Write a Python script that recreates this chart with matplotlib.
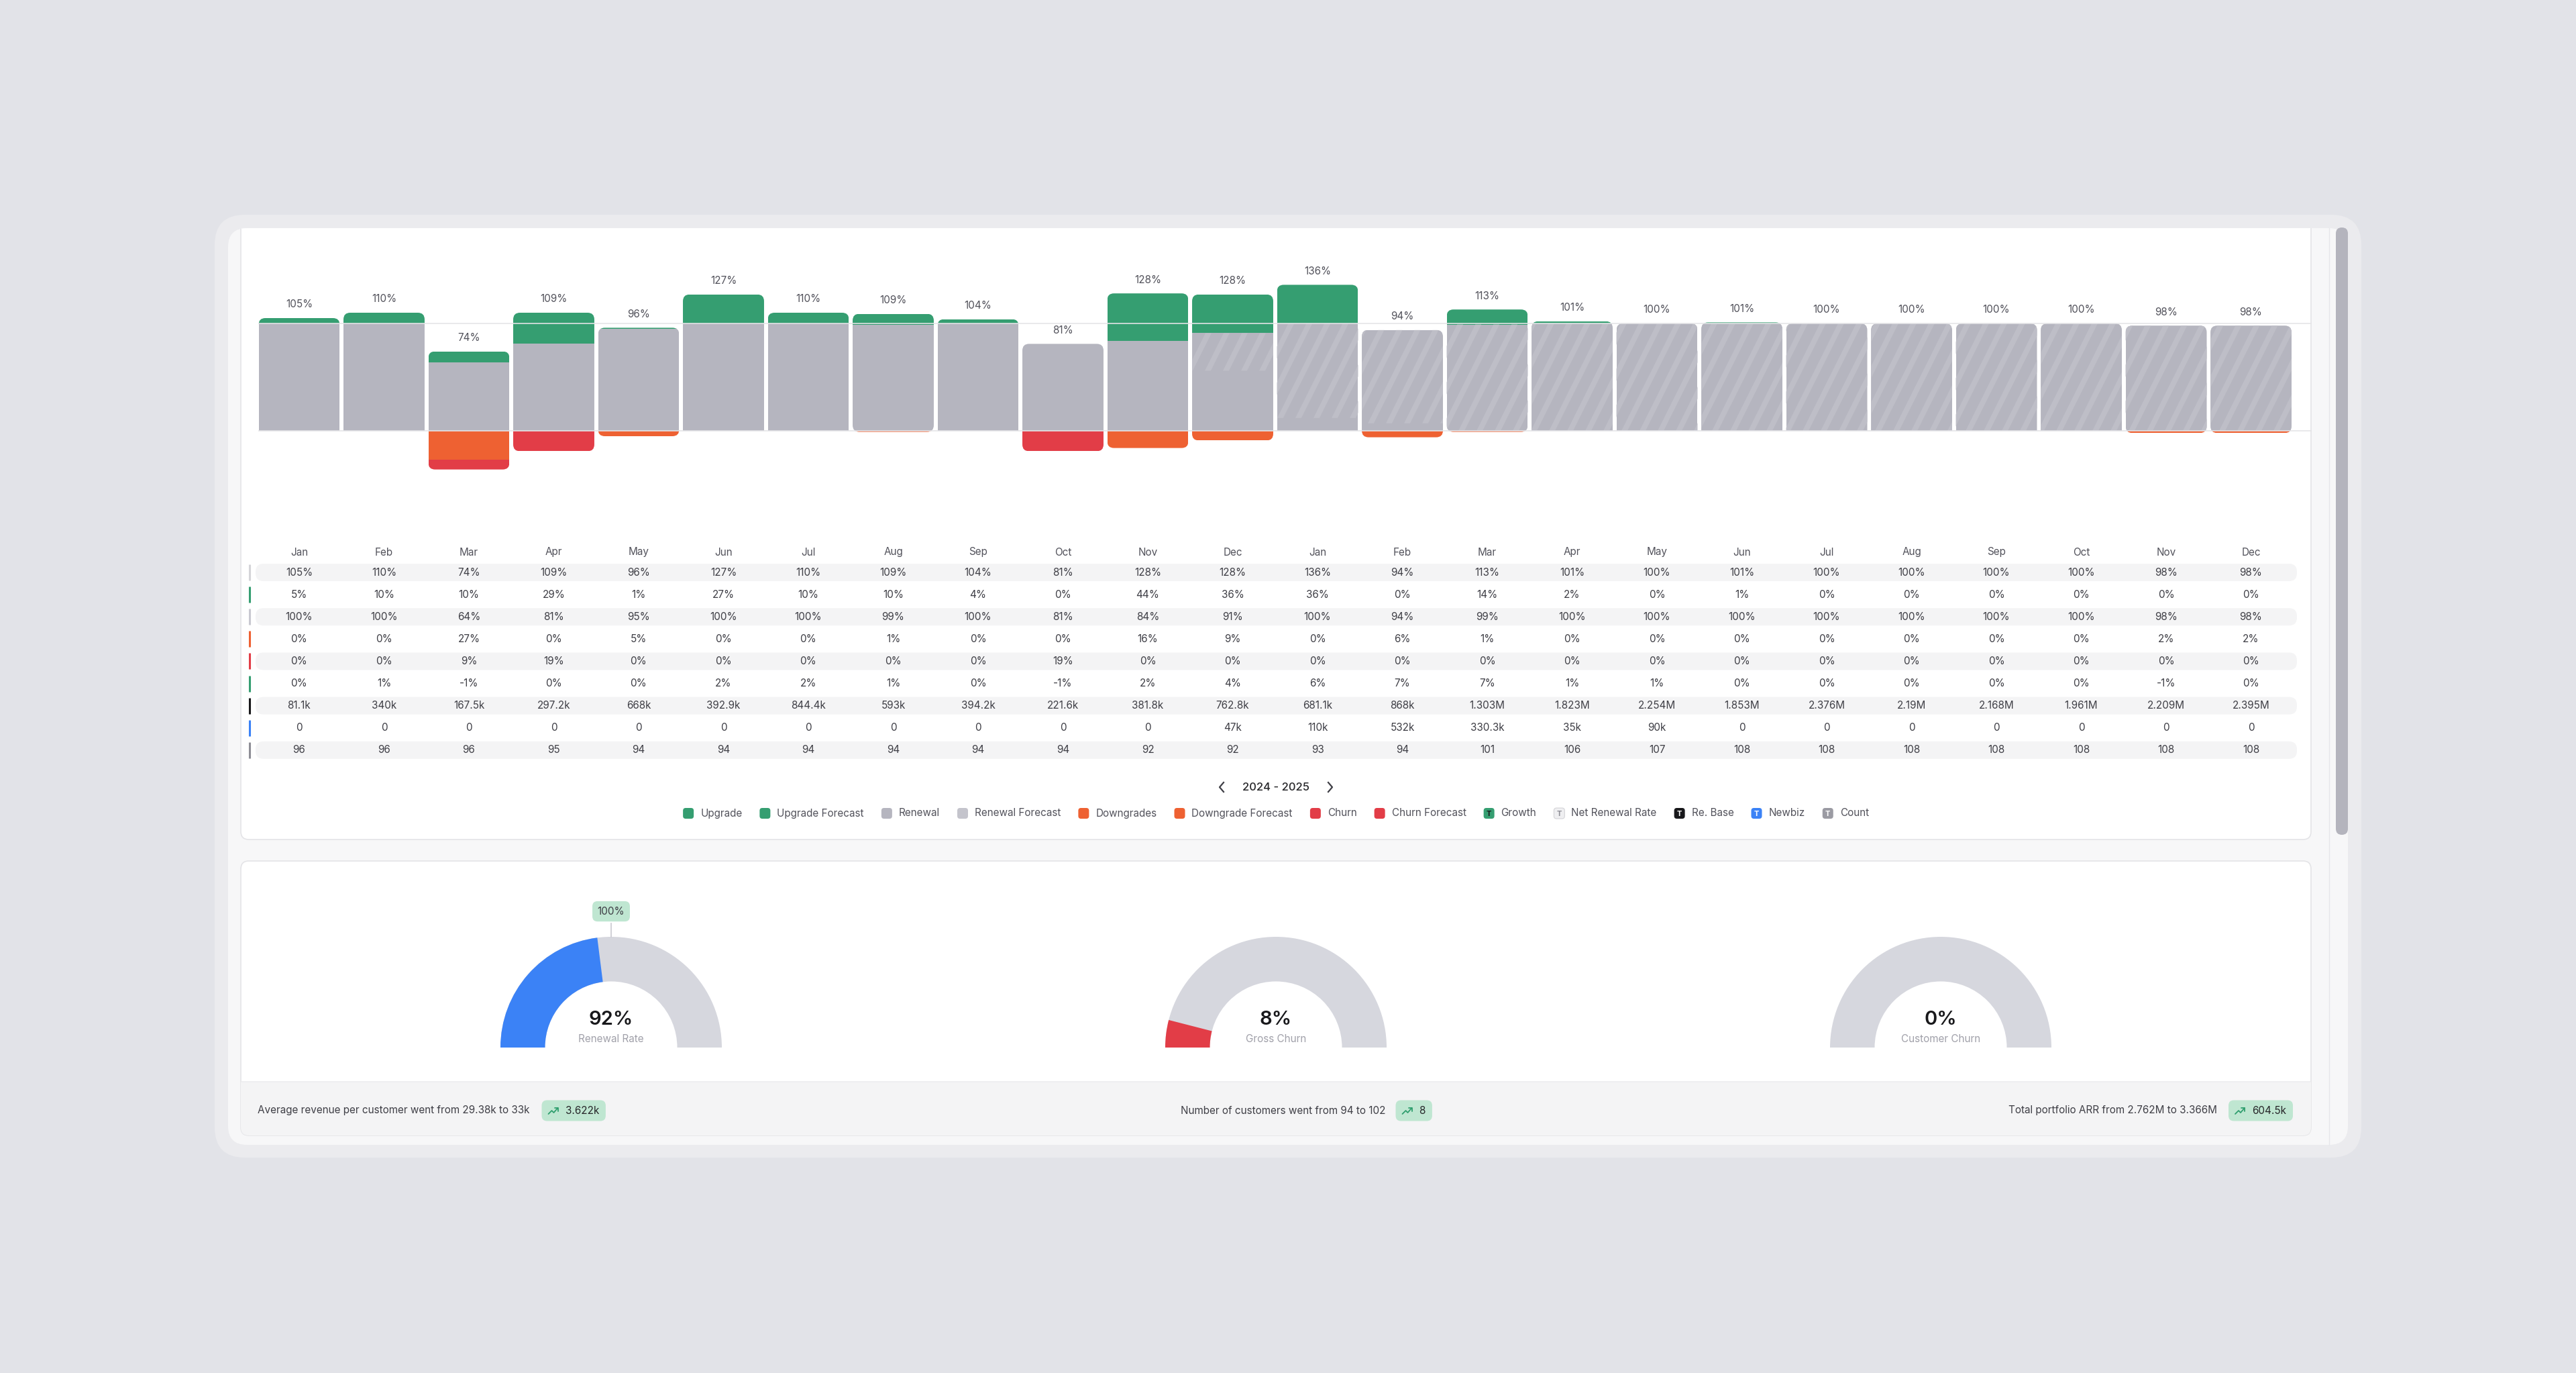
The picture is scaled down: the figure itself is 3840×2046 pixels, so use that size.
import numpy as np
import matplotlib
matplotlib.use('Agg')
import matplotlib.pyplot as plt
from matplotlib.patches import FancyBboxPatch, Rectangle, Wedge
from matplotlib.collections import PolyCollection
from matplotlib.transforms import blended_transform_factory

plt.rcParams['font.family'] = ['Inter', 'DejaVu Sans']

# ---- values ----
months = ['Jan', 'Feb', 'Mar', 'Apr', 'May', 'Jun', 'Jul', 'Aug', 'Sep', 'Oct', 'Nov', 'Dec'] * 2
net_renewal = [105, 110, 74, 109, 96, 127, 110, 109, 104, 81, 128, 128,
               136, 94, 113, 101, 100, 101, 100, 100, 100, 100, 98, 98]
upgrade = [5, 10, 10, 29, 1, 27, 10, 10, 4, 0, 44, 36,
           36, 0, 14, 2, 0, 1, 0, 0, 0, 0, 0, 0]
renewal = [100, 100, 64, 81, 95, 100, 100, 99, 100, 81, 84, 91,
           100, 94, 99, 100, 100, 100, 100, 100, 100, 100, 98, 98]
# part of the renewal bar that is still a forecast (hatched)
renewal_forecast = [0, 0, 0, 0, 0, 0, 0, 0, 0, 0, 0, 35,
                    88, 87, 99, 100, 100, 100, 100, 100, 100, 100, 98, 98]
downgrades = [0, 0, 27, 0, 5, 0, 0, 1, 0, 0, 16, 9,
              0, 6, 1, 0, 0, 0, 0, 0, 0, 0, 2, 2]
churn = [0, 0, 9, 19, 0, 0, 0, 0, 0, 19, 0, 0,
         0, 0, 0, 0, 0, 0, 0, 0, 0, 0, 0, 0]
growth = [0, 1, -1, 0, 0, 2, 2, 1, 0, -1, 2, 4,
          6, 7, 7, 1, 1, 0, 0, 0, 0, 0, -1, 0]
re_base = ['81.1k', '340k', '167.5k', '297.2k', '668k', '392.9k', '844.4k', '593k',
           '394.2k', '221.6k', '381.8k', '762.8k', '681.1k', '868k', '1.303M', '1.823M',
           '2.254M', '1.853M', '2.376M', '2.19M', '2.168M', '1.961M', '2.209M', '2.395M']
newbiz = ['0', '0', '0', '0', '0', '0', '0', '0', '0', '0', '0', '47k',
          '110k', '532k', '330.3k', '35k', '90k', '0', '0', '0', '0', '0', '0', '0']
count = [96, 96, 96, 95, 94, 94, 94, 94, 94, 94, 92, 92,
         93, 94, 101, 106, 107, 108, 108, 108, 108, 108, 108, 108]
period = '2024 - 2025'

legend_labels = ['Upgrade', 'Upgrade Forecast', 'Renewal', 'Renewal Forecast', 'Downgrades',
                 'Downgrade Forecast', 'Churn', 'Churn Forecast', 'Growth', 'Net Renewal Rate',
                 'Re. Base', 'Newbiz', 'Count']

gauge_labels = ['Renewal Rate', 'Gross Churn', 'Customer Churn']
gauge_values = [92, 8, 0]
gauge_max = [200, 100, 100]
renewal_target = 100

footer_texts = ['Average revenue per customer went from 29.38k to 33k',
                'Number of customers went from 94 to 102',
                'Total portfolio ARR from 2.762M to 3.366M']
footer_deltas = ['3.622k', '8', '604.5k']

# ---- colours ----
GREEN = '#359e71'
GRAY = '#b5b5bf'
STRIPE = '#bebec7'
ORANGE = '#ee6132'
RED = '#e23d47'
BLUE = '#3b82f6'
TXT = '#3f3f46'
TXT2 = '#52525b'

W, H = 3840, 2046
fig = plt.figure(figsize=(W / 100, H / 100), dpi=100, facecolor='#e2e3e8')

bg = fig.add_axes([0, 0, 1, 1])
bg.set_xlim(0, W)
bg.set_ylim(H, 0)
bg.axis('off')


def px_axes(x0, y0, x1, y1):
    return fig.add_axes([x0 / W, 1 - y1 / H, (x1 - x0) / W, (y1 - y0) / H])


def rbox(x0, y0, x1, y1, r, fc, ec='none', lw=0, z=1, ax=bg):
    p = FancyBboxPatch((x0, y0), x1 - x0, y1 - y0,
                       boxstyle=f'round,pad=0,rounding_size={r}',
                       fc=fc, ec=ec, lw=lw, zorder=z)
    ax.add_patch(p)
    return p


# ---- page frame, cards, scrollbar ----
rbox(320, 320, 3520, 1725, 45, '#ebebee')
panel = rbox(340, 340, 3500, 1706, 28, '#f7f7f8')
card1 = rbox(359, 300, 3445, 1251, 12, 'white', ec='#e4e4e7', lw=1.2)
card1.set_clip_path(panel)
bg.plot([3472, 3472], [340, 1706], color='#e6e6ea', lw=1, zorder=1)
rbox(3482, 339, 3500, 1244, 9, '#b4b4bd', z=2)
card2 = rbox(359, 1283, 3445, 1692, 12, 'white', ec='#e4e4e7', lw=1.2)
foot = Rectangle((359, 1612), 3086, 80, fc='#f4f4f5', ec='none', zorder=1.5)
bg.add_patch(foot)
foot.set_clip_path(card2)
bg.plot([360, 3444], [1612, 1612], color='#ececef', lw=1.2, zorder=1.6)

# ---- stacked bar chart ----
ax = px_axes(385, 380, 3446, 720)
ax.set_xlim(-0.482, 23.715)
ax.set_ylim(-48.75, 163.75)
ax.axis('off')

x = np.arange(len(months))
bw = 0.956
upg = np.array(upgrade)
ren = np.array(renewal)
ren_fc = np.array(renewal_forecast)
ren_act = ren - ren_fc
dwn = np.array(downgrades)
chu = np.array(churn)
pos_top = ren + upg
neg_bot = -(dwn + chu)

sx = ax.transData.transform((1, 0))[0] - ax.transData.transform((0, 0))[0]
sy = ax.transData.transform((0, 1))[1] - ax.transData.transform((0, 0))[1]
rx, ry = 10 / sx, 10 / sy

outlines = []
for i in x:
    lo = neg_bot[i] if neg_bot[i] < 0 else -3 * ry
    o = FancyBboxPatch((i - bw / 2, lo), bw, pos_top[i] - lo,
                       boxstyle=f'round,pad=0,rounding_size={rx}',
                       mutation_aspect=ry / rx)
    o.set_transform(ax.transData)
    outlines.append(o)

stacks = [
    ax.bar(x, ren_act, bw, bottom=0, color=GRAY, lw=0, zorder=2),
    ax.bar(x, ren_fc, bw, bottom=ren_act, color=GRAY, lw=0, zorder=2),
    ax.bar(x, upg, bw, bottom=ren, color=GREEN, lw=0, zorder=2),
    ax.bar(x, -dwn, bw, bottom=0, color=ORANGE, lw=0, zorder=2),
    ax.bar(x, -chu, bw, bottom=-dwn, color=RED, lw=0, zorder=2),
]
for cont in stacks:
    for i, rect in enumerate(cont):
        rect.set_clip_path(outlines[i])

# diagonal stripes on forecast renewal
period_u = 27 / sx
stripe_u = 9 / sx
for i in x:
    if ren_fc[i] <= 0:
        continue
    y0, y1 = ren_act[i], ren[i]
    shift = (y1 - y0) * sy / 2 / sx
    k = np.floor((i - bw / 2 - shift) / period_u) * period_u
    polys = []
    while k < i + bw / 2:
        polys.append([(k, y0), (k + stripe_u, y0), (k + stripe_u + shift, y1), (k + shift, y1)])
        k += period_u
    pc = PolyCollection(polys, facecolors=STRIPE, edgecolors='none', zorder=2.5)
    ax.add_collection(pc, autolim=False)
    pc.set_clip_path(outlines[i])

ax.axhline(100, color='#e4e4e7', lw=1.3, zorder=4, alpha=0.9)
ax.axhline(0, color='#e4e4e7', lw=1.3, zorder=4, alpha=0.9)

for i in x:
    ax.annotate(f'{net_renewal[i]}%', (i, pos_top[i]), xytext=(0, 14.5),
                textcoords='offset points', ha='center', va='center',
                fontsize=11, color=TXT2)

# ---- table under the bars ----
tr = blended_transform_factory(ax.transData, bg.transData)
for i, m in enumerate(months):
    bg.text(i, 823, m, transform=tr, ha='center', va='center', fontsize=11, color=TXT2)

rows = [
    [f'{v}%' for v in net_renewal],
    [f'{v}%' for v in upgrade],
    [f'{v}%' for v in renewal],
    [f'{v}%' for v in downgrades],
    [f'{v}%' for v in churn],
    [f'{v}%' for v in growth],
    re_base,
    newbiz,
    [str(v) for v in count],
]
row_colors = ['#d4d4d8', GREEN, '#c9c9d1', ORANGE, RED, GREEN, '#18181b', BLUE, '#8e8e96']
for k, vals in enumerate(rows):
    yc = 853 + 33.1 * k
    if k % 2 == 0:
        rbox(381, yc - 13, 3424, yc + 13, 12, '#f4f4f5', z=1.8)
    bg.plot([372, 372], [yc - 12, yc + 12], color=row_colors[k], lw=2.2,
            solid_capstyle='butt', zorder=2)
    for i, s in enumerate(vals):
        bg.text(i, yc, s, transform=tr, ha='center', va='center', fontsize=11, color=TXT, zorder=3)

# ---- period switcher ----
bg.text(1902, 1173, period, ha='center', va='center', fontsize=12, color='#27272a',
        fontweight='medium', zorder=3)
bg.plot([1824, 1818, 1824], [1166, 1173, 1180], color=TXT, lw=1.6, zorder=3)
bg.plot([1980, 1986, 1980], [1166, 1173, 1180], color=TXT, lw=1.6, zorder=3)

# ---- legend ----
renderer = fig.canvas.get_renderer()
leg_colors = [GREEN, GREEN, GRAY, '#c4c4cc', ORANGE, ORANGE, RED, RED,
              GREEN, '#efeff1', '#18181b', BLUE, '#9b9ba3']
leg_t = [None] * 8 + ['#18181b', '#8e8e96', 'white', 'white', 'white']
ly = 1212
texts = [bg.text(0, ly, lab, ha='left', va='center', fontsize=11, color=TXT2, zorder=3)
         for lab in legend_labels]
widths = [t.get_window_extent(renderer=renderer).width for t in texts]
msize, mgap, igap = 16, 10, 26
total = sum(msize + mgap + w for w in widths) + igap * (len(widths) - 1)
cur = 1902 - total / 2
for t, w, c, tc in zip(texts, widths, leg_colors, leg_t):
    rbox(cur, ly - msize / 2, cur + msize, ly + msize / 2, 4, c,
         ec='#d4d4d8' if c == '#efeff1' else 'none', lw=0.8, z=2)
    if tc:
        bg.text(cur + msize / 2, ly + 0.5, 'T', ha='center', va='center', fontsize=8,
                fontweight='bold', color=tc, zorder=3)
    t.set_x(cur + msize + mgap)
    cur += msize + mgap + w + igap

# ---- gauges ----
gauge_cx = [911, 1902, 2893]
gauge_colors = [BLUE, RED, RED]
R_PX = 165
for cx, lab, v, vmax, col in zip(gauge_cx, gauge_labels, gauge_values, gauge_max, gauge_colors):
    gax = px_axes(cx - 175, 1376, cx + 175, 1571)
    gax.set_xlim(-175 / R_PX, 175 / R_PX)
    gax.set_ylim(-10 / R_PX, 185 / R_PX)
    gax.axis('off')
    gax.add_patch(Wedge((0, 0), 1, 0, 180, width=0.403, fc='#d6d7de', ec='none'))
    if v > 0:
        gax.add_patch(Wedge((0, 0), 1, 180 - v / vmax * 180, 180, width=0.403, fc=col, ec='none'))
    gax.text(0, 0.25, f'{v}%', ha='center', va='center', fontsize=21,
             fontweight='semibold', color='#18181b')
    gax.text(0, 0.075, lab, ha='center', va='center', fontsize=11, color='#a1a1aa')
    if lab == 'Renewal Rate':
        a = np.deg2rad(180 - renewal_target / vmax * 180)
        gax.plot([np.cos(a), 1.12 * np.cos(a)], [np.sin(a), 1.12 * np.sin(a)],
                 color='#c8c8d0', lw=1.2, clip_on=False)
        gax.text(1.23 * np.cos(a), 1.23 * np.sin(a), f'{renewal_target}%', ha='center',
                 va='center', fontsize=11, color=TXT, clip_on=False,
                 bbox=dict(boxstyle='round,pad=0.5', fc='#bfe6d1', ec='none'))


# ---- footer ----
def trend_icon(ix, yc):
    bg.plot([ix, ix + 5, ix + 8, ix + 14], [yc + 5, yc, yc + 3, yc - 4],
            color='#2f9e6e', lw=1.3, zorder=4, solid_capstyle='round')
    bg.plot([ix + 9, ix + 14, ix + 14], [yc - 4, yc - 4, yc + 1],
            color='#2f9e6e', lw=1.3, zorder=4, solid_capstyle='round')


def delta_pill(x0, yc, s):
    t = bg.text(x0 + 35, yc, s, ha='left', va='center', fontsize=11, color='#27272a', zorder=4)
    w = t.get_window_extent(renderer=renderer).width
    rbox(x0, yc - 15.5, x0 + 45 + w, yc + 15.5, 8, '#bfe6d1', z=3)
    trend_icon(x0 + 10, yc)
    return 45 + w


fy = 1655
t1 = bg.text(384, fy, footer_texts[0], ha='left', va='center', fontsize=11, color=TXT, zorder=4)
w1 = t1.get_window_extent(renderer=renderer).width
delta_pill(384 + w1 + 18, fy, footer_deltas[0])

t2 = bg.text(1760, fy, footer_texts[1], ha='left', va='center', fontsize=11, color=TXT, zorder=4)
w2 = t2.get_window_extent(renderer=renderer).width
delta_pill(1760 + w2 + 15, fy, footer_deltas[1])

tmp = bg.text(0, fy, footer_deltas[2], fontsize=11)
pw3 = 45 + tmp.get_window_extent(renderer=renderer).width
tmp.remove()
px3 = 3418 - pw3
delta_pill(px3, fy, footer_deltas[2])
bg.text(px3 - 17, fy, footer_texts[2], ha='right', va='center', fontsize=11, color=TXT, zorder=4)

fig.savefig('out.png', dpi=100, facecolor=fig.get_facecolor())
